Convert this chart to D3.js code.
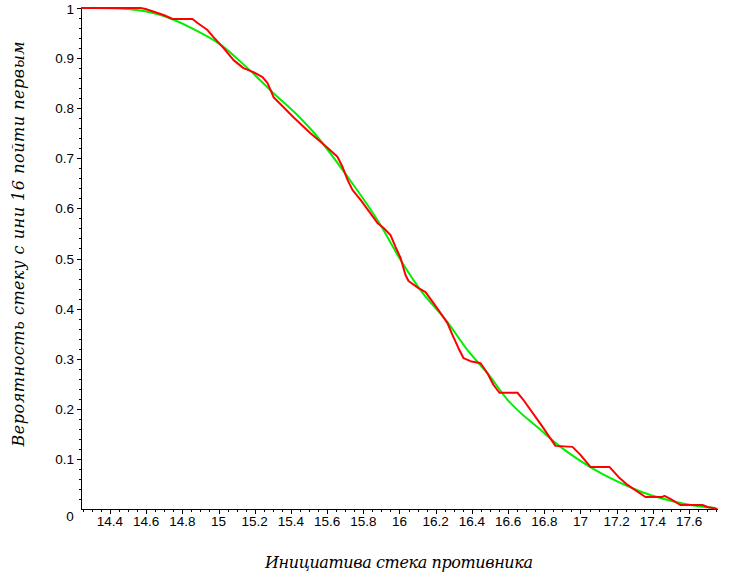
<!DOCTYPE html>
<html><head><meta charset="utf-8">
<script src="https://cdn.jsdelivr.net/npm/d3@7"></script>
<style>body{margin:0;background:#fff}svg{display:block}</style>
</head><body>
<svg id="c" width="731" height="578"></svg>
<script>
// ---- data ----
const xTitle = "Инициатива стека противника";
const yTitle = "Вероятность стеку с ини 16 пойти первым";
const xDomain = [14.24, 17.76];
const yDomain = [0, 1];
const xMajorTicks = [14.4, 14.6, 14.8, 15, 15.2, 15.4, 15.6, 15.8, 16, 16.2, 16.4, 16.6, 16.8, 17, 17.2, 17.4, 17.6];
const xTickLabels = ["14.4","14.6","14.8","15","15.2","15.4","15.6","15.8","16","16.2","16.4","16.6","16.8","17","17.2","17.4","17.6"];
const yMajorTicks = [0.1,0.2,0.3,0.4,0.5,0.6,0.7,0.8,0.9,1];
const yTickLabels = ["0.1","0.2","0.3","0.4","0.5","0.6","0.7","0.8","0.9","1"];

// red series (piecewise linear)
const redX = [14.24,14.569,14.597,14.696,14.746,14.856,14.884,14.939,14.972,15.028,15.083,15.138,15.193,15.243,15.271,15.304,15.343,15.414,15.508,15.564,15.608,15.657,15.685,15.713,15.740,15.785,15.878,15.912,15.950,15.978,16.006,16.033,16.050,16.105,16.144,16.188,16.227,16.265,16.293,16.326,16.354,16.392,16.448,16.486,16.519,16.552,16.652,16.680,16.779,16.862,16.956,17.0,17.055,17.160,17.210,17.260,17.359,17.453,17.464,17.497,17.552,17.674,17.702,17.757];
const redY = [1.0,1.0,0.998,0.986,0.978,0.978,0.970,0.956,0.942,0.920,0.896,0.880,0.872,0.862,0.850,0.822,0.808,0.782,0.750,0.733,0.719,0.703,0.683,0.657,0.637,0.617,0.571,0.561,0.547,0.523,0.501,0.467,0.455,0.441,0.433,0.411,0.391,0.371,0.347,0.321,0.301,0.295,0.291,0.271,0.248,0.232,0.232,0.220,0.170,0.126,0.124,0.108,0.084,0.084,0.064,0.048,0.024,0.024,0.026,0.020,0.008,0.008,0.004,0.0];

// green series (smooth)
const greenX = [14.24,14.40,14.497,14.680,14.862,15.011,15.160,15.304,15.453,15.525,15.713,15.895,16.006,16.116,16.265,16.376,16.486,16.597,16.779,16.890,17.0,17.110,17.221,17.331,17.442,17.552,17.663,17.746];
const greenY = [1.0,0.9995,0.998,0.986,0.958,0.927,0.880,0.830,0.780,0.752,0.663,0.567,0.497,0.437,0.373,0.317,0.271,0.218,0.158,0.124,0.096,0.072,0.052,0.035,0.022,0.012,0.005,0.002];

// ---- drawing ----
const svg = d3.select("#c");
const x = d3.scaleLinear().domain(xDomain).range([81, 718]);
const y = d3.scaleLinear().domain(yDomain).range([509, 8]);

const tickFont = "'Liberation Sans', Arial, sans-serif";

// x axis
const xMinor = d3.range(14.25, 17.76, 0.05).map(v => +v.toFixed(2)).filter(v => !xMajorTicks.some(m => Math.abs(m - v) < 1e-6));
const xa = svg.append("g").attr("transform", `translate(0,${y(0)})`);
xa.append("line").attr("x1", 81).attr("x2", 718).attr("y1", 0).attr("y2", 0).attr("stroke", "#000").attr("shape-rendering","crispEdges");
xa.selectAll("line.mj").data(xMajorTicks).join("line").attr("class","mj")
  .attr("x1", d => Math.round(x(d))+0.5).attr("x2", d => Math.round(x(d))+0.5).attr("y1", 0).attr("y2", 5).attr("stroke", "#000");
xa.selectAll("line.mn").data(xMinor).join("line").attr("class","mn")
  .attr("x1", d => Math.round(x(d))+0.5).attr("x2", d => Math.round(x(d))+0.5).attr("y1", 0).attr("y2", 3).attr("stroke", "#000");
xa.selectAll("text").data(xMajorTicks).join("text")
  .attr("x", d => x(d)).attr("y", 17).attr("text-anchor", "middle")
  .attr("font-family", tickFont).attr("font-size", 13.5).text((d,i) => xTickLabels[i]);

// y axis
const yMinor = d3.range(0.02, 1.0, 0.02).map(v => +v.toFixed(2)).filter(v => !yMajorTicks.some(m => Math.abs(m - v) < 1e-6));
const ya = svg.append("g");
ya.append("line").attr("x1", 81.5).attr("x2", 81.5).attr("y1", y(1)).attr("y2", y(0)).attr("stroke", "#000");
ya.selectAll("line.mj").data(yMajorTicks).join("line").attr("class","mj")
  .attr("x1", 77).attr("x2", 81).attr("y1", d => Math.round(y(d))+0.5).attr("y2", d => Math.round(y(d))+0.5).attr("stroke", "#000");
ya.selectAll("line.mn").data(yMinor).join("line").attr("class","mn")
  .attr("x1", 79).attr("x2", 81).attr("y1", d => Math.round(y(d))+0.5).attr("y2", d => Math.round(y(d))+0.5).attr("stroke", "#000");
ya.selectAll("text").data(yMajorTicks).join("text")
  .attr("x", 74).attr("y", d => Math.max(y(d) + 5, 14)).attr("text-anchor", "end")
  .attr("font-family", tickFont).attr("font-size", 13.5).text((d,i) => yTickLabels[i]);
// origin label
svg.append("text").attr("x", 70).attr("y", 521).attr("text-anchor", "middle")
  .attr("font-family", tickFont).attr("font-size", 13.5).text("0");

// lines
const greenData = greenX.map((v,i) => [v, greenY[i]]);
const redData = redX.map((v,i) => [v, redY[i]]);
svg.append("path").datum(greenData)
  .attr("d", d3.line().x(d => x(d[0])).y(d => y(d[1])).curve(d3.curveMonotoneX))
  .attr("fill", "none").attr("stroke", "#00ee00").attr("stroke-width", 2);
svg.append("path").datum(redData)
  .attr("d", d3.line().x(d => x(d[0])).y(d => y(d[1])))
  .attr("fill", "none").attr("stroke", "#ff0000").attr("stroke-width", 2).attr("stroke-linejoin","round");

// titles
const titleFont = "'DejaVu Serif', 'Liberation Serif', serif";
svg.append("text").attr("x", 399).attr("y", 568).attr("text-anchor", "middle")
  .attr("font-family", titleFont).attr("font-style", "italic").attr("font-size", 16)
  .attr("textLength", 268).text(xTitle);
svg.append("text").attr("transform", "translate(24,244) rotate(-90)").attr("text-anchor", "middle")
  .attr("font-family", titleFont).attr("font-style", "italic").attr("font-size", 16)
  .attr("textLength", 405).text(yTitle);
</script>
</body></html>
